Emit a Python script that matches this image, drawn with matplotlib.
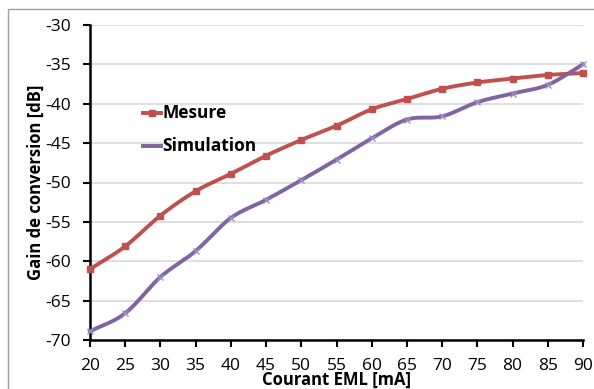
import numpy as np
import matplotlib
matplotlib.use("Agg")
import matplotlib.pyplot as plt
from matplotlib.patches import Rectangle

plt.rcParams["font.family"] = ["Open Sans", "DejaVu Sans"]
plt.rcParams["axes.unicode_minus"] = False

courant = [20, 25, 30, 35, 40, 45, 50, 55, 60, 65, 70, 75, 80, 85, 90]
mesure = [-61.0, -58.1, -54.2, -51.1, -48.9, -46.6, -44.6, -42.8, -40.7,
          -39.4, -38.1, -37.3, -36.8, -36.35, -36.1]
simulation = [-68.9, -66.6, -62.0, -58.7, -54.5, -52.2, -49.7, -47.1, -44.4,
              -42.0, -41.6, -39.8, -38.7, -37.6, -35.0]
yticks = [-70, -65, -60, -55, -50, -45, -40, -35, -30]
xticks = courant


def smooth(x, y, n=20):
    """Excel-like smoothed line through the points (Catmull-Rom)."""
    x = np.asarray(x, float)
    y = np.asarray(y, float)
    px = np.concatenate([[2 * x[0] - x[1]], x, [2 * x[-1] - x[-2]]])
    py = np.concatenate([[2 * y[0] - y[1]], y, [2 * y[-1] - y[-2]]])
    xs, ys = [], []
    t = np.linspace(0, 1, n, endpoint=False)
    for i in range(1, len(px) - 2):
        for p, out in ((px, xs), (py, ys)):
            p0, p1, p2, p3 = p[i - 1], p[i], p[i + 1], p[i + 2]
            out.extend(0.5 * ((2 * p1) + (-p0 + p2) * t
                              + (2 * p0 - 5 * p1 + 4 * p2 - p3) * t ** 2
                              + (-p0 + 3 * p1 - 3 * p2 + p3) * t ** 3))
    xs.append(x[-1])
    ys.append(y[-1])
    return np.array(xs), np.array(ys)


fig = plt.figure(figsize=(5.94, 3.89), dpi=100)
fig.patches.append(Rectangle((8 / 594, -0.1), 1.2, 1 - 9 / 389 + 0.1,
                             transform=fig.transFigure, fill=False,
                             edgecolor="#A0A0A0", linewidth=1.0))
ax = fig.add_axes([90 / 594, 1 - 340 / 389, 493 / 594, 315 / 389])

red = "#C0504D"
purple = "#8064A2"

sx, sy = smooth(courant, mesure)
ax.plot(sx, sy, color=red, lw=2.8, clip_on=False, zorder=3)
ax.plot(courant, mesure, ls="none", marker="s", ms=5, color=red,
        clip_on=False, zorder=4)
sx, sy = smooth(courant, simulation)
ax.plot(sx, sy, color=purple, lw=2.8, clip_on=False, zorder=3)
ax.plot(courant, simulation, ls="none", marker="x", ms=5, mew=1,
        color="#A08CC0", clip_on=False, zorder=4)

# legend drawn by hand (short line + bold text)
ax.plot([0.107, 0.145], [0.72, 0.72], transform=ax.transAxes,
        color=red, lw=2.8)
ax.plot([0.126], [0.72], transform=ax.transAxes, marker="s", ms=5,
        color=red)
ax.text(0.147, 0.72, "Mesure", transform=ax.transAxes, va="center",
        ha="left", fontsize=12.5, fontweight="bold")
ax.plot([0.107, 0.145], [0.617, 0.617], transform=ax.transAxes,
        color=purple, lw=2.8)
ax.text(0.147, 0.617, "Simulation", transform=ax.transAxes, va="center",
        ha="left", fontsize=12.5, fontweight="bold")

ax.set_xlim(20, 90)
ax.set_ylim(-70, -30)
ax.set_xticks(xticks)
ax.set_yticks(yticks)
ax.tick_params(axis="both", direction="out", length=5, width=1.5,
               labelsize=12.5, color="black")
ax.tick_params(axis="y", pad=9)
ax.tick_params(axis="x", pad=8)
for s in ("top", "right"):
    ax.spines[s].set_visible(False)
for s in ("left", "bottom"):
    ax.spines[s].set_linewidth(1.8)
ax.grid(axis="y", color="#D9D9D9", lw=1.2)
ax.set_axisbelow(True)

ax.set_xlabel("Courant EML [mA]", fontsize=12, fontweight="bold",
              labelpad=-2.5)
ax.set_ylabel("Gain de conversion [dB]", fontsize=12, fontweight="bold",
              labelpad=0)

fig.savefig("out.png", dpi=100)
